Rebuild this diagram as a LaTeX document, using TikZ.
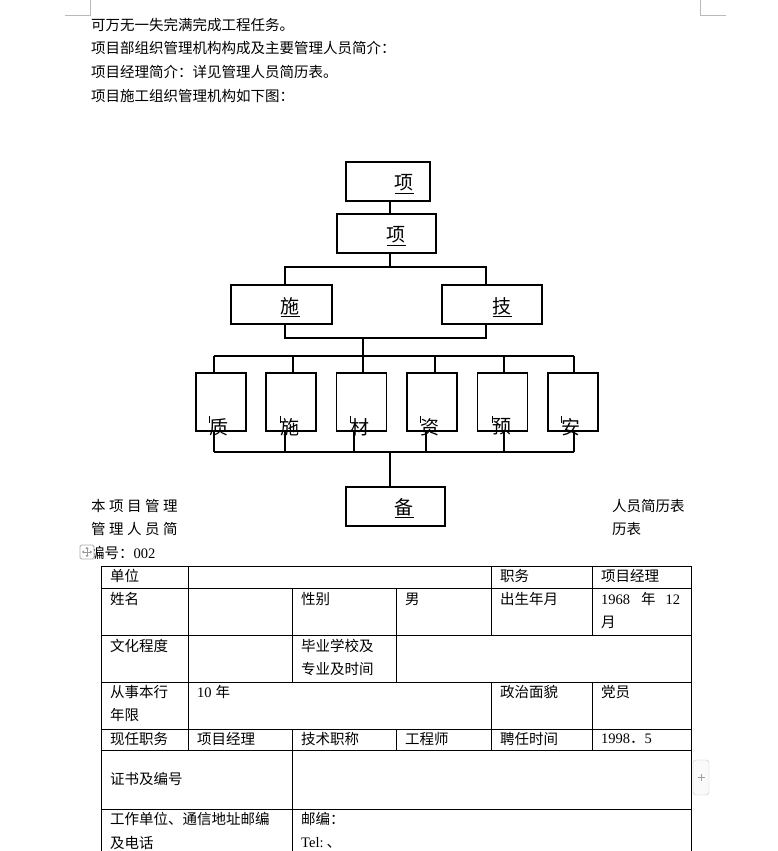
\documentclass[tikz,border=0pt]{standalone}
\usepackage{fontspec}
\setmainfont{Noto Sans CJK SC}
\newfontfamily\lat{Liberation Serif}
\usetikzlibrary{positioning}

\tikzset{
  orgbox/.style={draw, line width=1.1pt, inner sep=0pt},
  orglabel/.style={inner sep=0pt, font=\fontsize{19}{22}\selectfont},
  link/.style={line width=1.1pt},
  txt/.style={anchor=west, inner sep=0pt, font=\fontsize{14.5}{17}\selectfont},
  grid/.style={line width=0.9pt},
  mark/.style={draw=gray!55, line width=0.8pt}
}

\begin{document}
\begin{tikzpicture}[x=1pt,y=-1pt]
\useasboundingbox (0,0) rectangle (778,851);

% page corner marks
\draw[gray!55, line width=0.8pt] (90,0) -- (90,15) -- (65,15);
\draw[gray!55, line width=0.8pt] (700,0) -- (700,15) -- (726,15);

% text above the chart
\node[txt] (l1) at (91,25) {可万无一失完满完成工程任务。};
\node[txt] (l2) at (91,48) {项目部组织管理机构构成及主要管理人员简介：};
\node[txt] (l3) at (91,72) {项目经理简介：详见管理人员简历表。};
\node[txt] (l4) at (91,96) {项目施工组织管理机构如下图：};

% chart boxes
\node[orgbox, minimum width=84, minimum height=39] (pm) at (388,181.5) {};
\node[orglabel] (pmlbl) at (404,184) {\underline{项}};
\node[orgbox, minimum width=99, minimum height=39] (dept) at (386.5,233.5) {};
\node[orglabel] (deptlbl) at (396,236) {\underline{项}};
\node[orgbox, minimum width=101, minimum height=39] (sg) at (281.5,304.5) {};
\node[orglabel] (sglbl) at (290,307) {\underline{施}};
\node[orgbox, minimum width=100, minimum height=39] (js) at (492,304.5) {};
\node[orglabel] (jslbl) at (502,307) {\underline{技}};
\node[orgbox, minimum width=99, minimum height=39] (bz) at (395.5,506.5) {};
\node[orglabel] (bzlbl) at (404,508) {\underline{备}};

% junction points
\coordinate (t1) at (390,267);
\coordinate (t2) at (363,338);
\coordinate (t3) at (363,356);
\coordinate (t4) at (390,452);

% top links
\draw[link] (pm.south -| t1) -- (dept.north -| t1);
\draw[link] (dept.south -| t1) -- (t1);
\draw[link] (sg.north -| 285,0) |- (t1) -| (js.north -| 486,0);
\draw[link] (sg.south -| 285,0) |- (t2) -| (js.south -| 486,0);
\draw[link] (t2) -- (t3);

% six groups
\foreach \name/\cx/\lx/\tx/\bx/\ch in {zl/221/219/214/214/质, sgy/291/290/293/285/施,
    cl/361.5/360/363/354/材, zy/432/430/435/426/资, ys/502.5/502/504/504/预, aq/573/571/574/574/安}{
  \node[orgbox, minimum width=50, minimum height=58] (\name) at (\cx,402) {};
  \node[orglabel] (\name lbl) at (\lx,427) {\ch};
  \draw[line width=0.6pt] (\lx-10,416) -- (\lx-10,423);
  \draw[link] (\tx,356) -- (\name.north -| \tx,0);
  \draw[link] (\name.south -| \bx,0) -- (\bx,452);
}
\draw[link] (214,356) -- (574,356);
\draw[link] (214,452) -- (574,452);
\draw[link] (t4) -- (bz.north -| t4);

% text beside the bottom box
\node[txt] (s1) at (91,506) {本\hspace{3.5pt}项\hspace{3.5pt}目\hspace{3.5pt}管\hspace{3.5pt}理};
\node[txt] (s2) at (91,529) {管\hspace{3.5pt}理\hspace{3.5pt}人\hspace{3.5pt}员\hspace{3.5pt}简};
\node[txt] (r1) at (612,506) {人员简历表};
\node[txt] (r2) at (612,529) {历表};
\node[txt] (no) at (90,553) {编号：{\lat 002}};

% move handle
\draw[gray!65, fill=white, line width=0.8pt, rounded corners=1.5pt] (80,545) rectangle (94,559);
\draw[gray!80, line width=0.9pt] (87,548) -- (87,556) (83,552) -- (91,552);
\fill[gray!80] (87,546.8) -- (85.4,549) -- (88.6,549) -- cycle
  (87,557.2) -- (85.4,555) -- (88.6,555) -- cycle
  (81.8,552) -- (84,550.4) -- (84,553.6) -- cycle
  (92.2,552) -- (90,550.4) -- (90,553.6) -- cycle;

% table grid
\foreach \y in {566,588,635,682,729,750,809}
  \draw[grid] (101,\y) -- (691,\y);
\draw[grid] (101,566) -- (101,851);
\draw[grid] (691,566) -- (691,851);
\draw[grid] (188,566) -- (188,750);
\draw[grid] (292,588) -- (292,682) (292,729) -- (292,851);
\draw[grid] (396,588) -- (396,682) (396,729) -- (396,750);
\draw[grid] (491,566) -- (491,635) (491,682) -- (491,750);
\draw[grid] (592,566) -- (592,635) (592,682) -- (592,750);

% table text
\node[txt] (c11) at (110,576) {单位};
\node[txt] (c12) at (500,576) {职务};
\node[txt] (c13) at (601,576) {项目经理};
\node[txt] (c21) at (110,599) {姓名};
\node[txt] (c22) at (301,599) {性别};
\node[txt] (c23) at (405,599) {男};
\node[txt] (c24) at (500,599) {出生年月};
\node[txt] (c25) at (601,599) {{\lat 1968}\hspace{11pt}年\hspace{10pt}{\lat 12}};
\node[txt] (c25b) at (601,622) {月};
\node[txt] (c31) at (110,646) {文化程度};
\node[txt] (c32) at (301,646) {毕业学校及};
\node[txt] (c32b) at (301,669) {专业及时间};
\node[txt] (c41) at (110,692) {从事本行};
\node[txt] (c41b) at (110,715) {年限};
\node[txt] (c42) at (197,692) {{\lat 10}\hspace{4pt}年};
\node[txt] (c43) at (500,692) {政治面貌};
\node[txt] (c44) at (601,692) {党员};
\node[txt] (c51) at (110,739) {现任职务};
\node[txt] (c52) at (197,739) {项目经理};
\node[txt] (c53) at (301,739) {技术职称};
\node[txt] (c54) at (405,739) {工程师};
\node[txt] (c55) at (500,739) {聘任时间};
\node[txt] (c56) at (601,739) {{\lat 1998}．{\lat 5}};
\node[txt] (c61) at (110,779) {证书及编号};
\node[txt] (c71) at (110,819) {工作单位、通信地址邮编};
\node[txt] (c71b) at (110,843) {及电话};
\node[txt] (c72) at (301,819) {邮编：};
\node[txt] (c72b) at (301,843) {{\lat Tel:}\hspace{3pt}、};

% add-row handle
\draw[gray!45, fill=gray!4, rounded corners=3pt] (693,760) rectangle (709,795);
\draw[gray!75, line width=0.7pt] (697.5,777.5) -- (704.5,777.5) (701,774) -- (701,781);
\end{tikzpicture}
\end{document}
